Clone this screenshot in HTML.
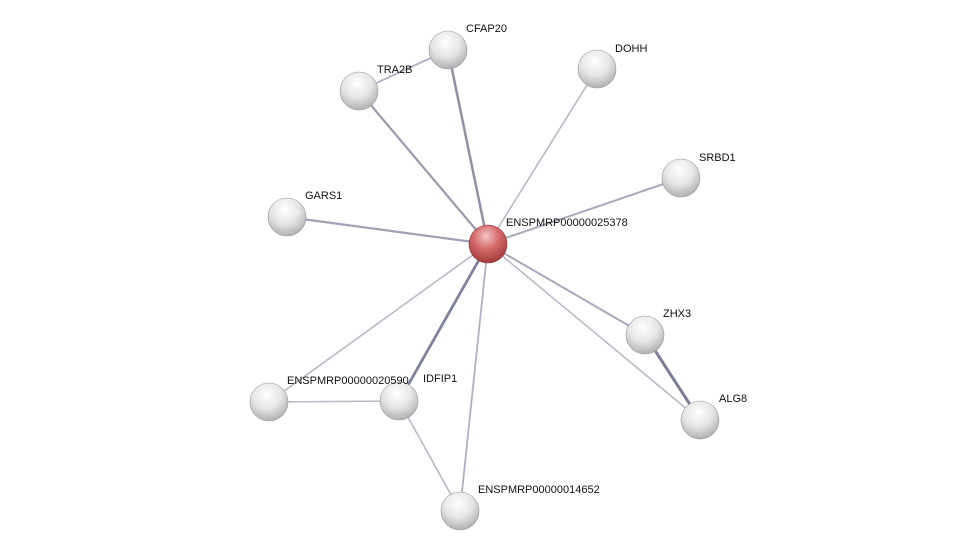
<!DOCTYPE html>
<html><head><meta charset="utf-8"><style>
html,body{margin:0;padding:0;background:#fff;}
svg{display:block;}
text{font-family:"Liberation Sans",sans-serif;font-size:11px;fill:#111;}
</style></head><body>
<svg width="975" height="556" viewBox="0 0 975 556" xmlns="http://www.w3.org/2000/svg">
<defs>
<radialGradient id="g" cx="0.45" cy="0.3" r="0.75">
<stop offset="0" stop-color="#ffffff"/>
<stop offset="0.5" stop-color="#e6e6e6"/>
<stop offset="1" stop-color="#a8a8a8"/>
</radialGradient>
<radialGradient id="r" cx="0.45" cy="0.3" r="0.75">
<stop offset="0" stop-color="#f3c4c4"/>
<stop offset="0.45" stop-color="#d66a6a"/>
<stop offset="1" stop-color="#9c3434"/>
</radialGradient>
</defs>
<g stroke="#a9a9be" stroke-width="2" fill="none">
<line x1="488" y1="244" x2="448" y2="50" stroke="#8f90a8" stroke-width="2.5"/>
<line x1="488" y1="244" x2="359" y2="91" stroke="#9a9bb0" stroke-width="2.2"/>
<line x1="488" y1="244" x2="597" y2="69" stroke="#b8b8c8" stroke-width="1.6"/>
<line x1="488" y1="244" x2="681" y2="178" stroke="#a9a9be" stroke-width="2"/>
<line x1="488" y1="244" x2="287" y2="217" stroke="#a0a1b6" stroke-width="2.2"/>
<line x1="488" y1="244" x2="645" y2="335" stroke="#a9a9be" stroke-width="2"/>
<line x1="488" y1="244" x2="700" y2="420" stroke="#b8b8c8" stroke-width="1.6"/>
<line x1="488" y1="244" x2="269" y2="402" stroke="#b8b8c8" stroke-width="1.6"/>
<line x1="488" y1="244" x2="399" y2="401" stroke="#80819c" stroke-width="2.8"/>
<line x1="488" y1="244" x2="460" y2="511" stroke="#b0b0c4" stroke-width="1.8"/>
<line x1="359" y1="91" x2="448" y2="50" stroke="#b0b0c4" stroke-width="1.8"/>
<line x1="645" y1="335" x2="700" y2="420" stroke="#7c7d98" stroke-width="3"/>
<line x1="269" y1="402" x2="399" y2="401" stroke="#b8b8c8" stroke-width="1.6"/>
<line x1="399" y1="401" x2="460" y2="511" stroke="#b8b8c8" stroke-width="1.6"/>
</g>
<g stroke="#999" stroke-width="0.6">
<circle cx="448" cy="50" r="19" fill="url(#g)"/>
<circle cx="359" cy="91" r="19" fill="url(#g)"/>
<circle cx="597" cy="69" r="19" fill="url(#g)"/>
<circle cx="681" cy="178" r="19" fill="url(#g)"/>
<circle cx="287" cy="217" r="19" fill="url(#g)"/>
<circle cx="645" cy="335" r="19" fill="url(#g)"/>
<circle cx="700" cy="420" r="19" fill="url(#g)"/>
<circle cx="269" cy="402" r="19" fill="url(#g)"/>
<circle cx="399" cy="401" r="19" fill="url(#g)"/>
<circle cx="460" cy="511" r="19" fill="url(#g)"/>
<circle cx="488" cy="244" r="19" fill="url(#r)" stroke="#8a3030"/>
</g>
<text x="466" y="32">CFAP20</text>
<text x="377" y="73">TRA2B</text>
<text x="615" y="52">DOHH</text>
<text x="699" y="161">SRBD1</text>
<text x="305" y="199">GARS1</text>
<text x="506" y="226">ENSPMRP00000025378</text>
<text x="663" y="317">ZHX3</text>
<text x="719" y="402">ALG8</text>
<text x="287" y="384">ENSPMRP00000020590</text>
<text x="423" y="382">IDFIP1</text>
<text x="478" y="493">ENSPMRP00000014652</text>
</svg>
</body></html>
